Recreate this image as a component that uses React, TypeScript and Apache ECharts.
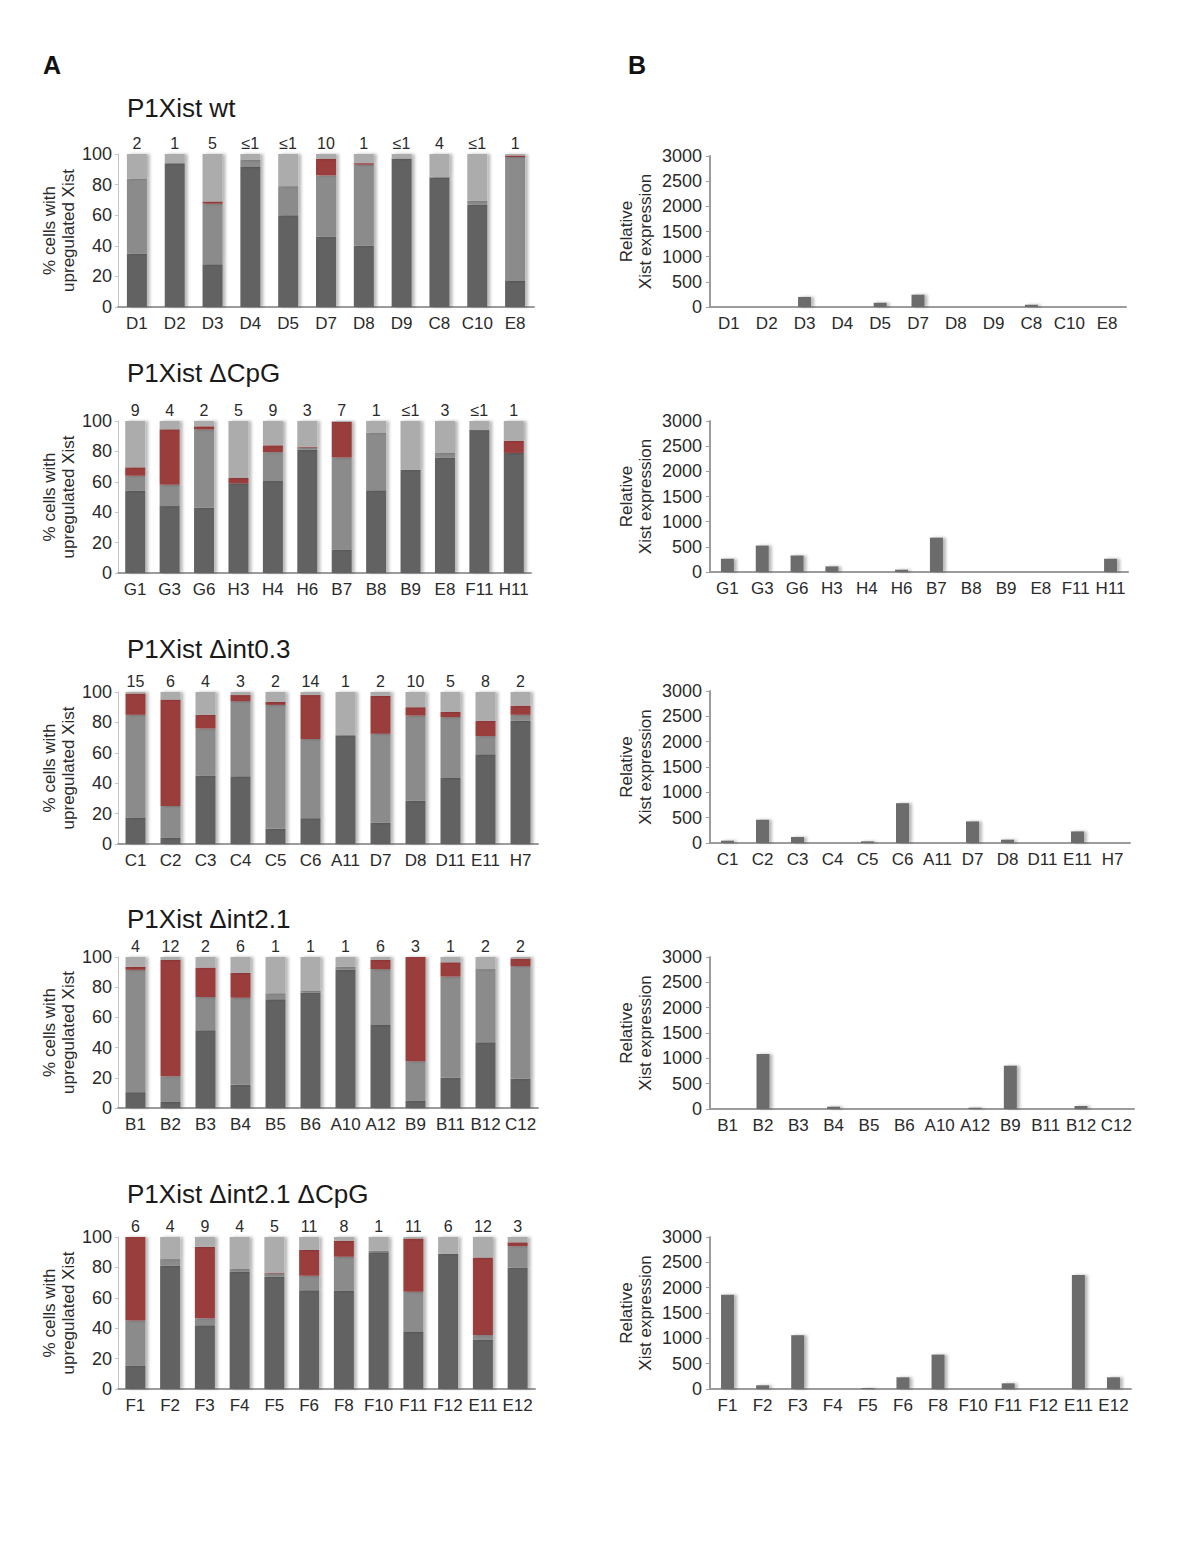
import React, { useEffect, useRef } from "react";
import * as echarts from "echarts";

// ---------- Panel 1: P1Xist wt ----------
const wtClones = ["D1", "D2", "D3", "D4", "D5", "D7", "D8", "D9", "C8", "C10", "E8"];
const wtDark = [35, 94, 28, 91.5, 60, 46, 40, 97, 84.5, 67, 17];
const wtMid = [49, 0, 39.5, 4.5, 19, 40, 53, 0, 0.8, 2.5, 81];
const wtRed = [0, 0, 1.5, 0, 0, 11, 1, 0, 0, 0, 1];
const wtCounts = ["2", "1", "5", "≤1", "≤1", "10", "1", "≤1", "4", "≤1", "1"];
const wtExpr = [0, 0, 200, 0, 85, 245, 0, 0, 45, 0, 0];

// ---------- Panel 2: P1Xist ΔCpG ----------
const cpgClones = ["G1", "G3", "G6", "H3", "H4", "H6", "B7", "B8", "B9", "E8", "F11", "H11"];
const cpgDark = [54, 44, 43, 59, 60.5, 81, 15.5, 54.5, 68, 76, 94, 79];
const cpgMid = [10, 14, 51.5, 0, 19, 1.5, 60.5, 38, 0, 3, 0, 0];
const cpgRed = [5.5, 36.5, 2, 3.5, 4.5, 0.5, 23.5, 0, 0, 0, 0, 8];
const cpgCounts = ["9", "4", "2", "5", "9", "3", "7", "1", "≤1", "3", "≤1", "1"];
const cpgExpr = [263, 525, 328, 112, 0, 46, 683, 0, 0, 0, 0, 263];

// ---------- Panel 3: P1Xist Δint0.3 ----------
const int03Clones = ["C1", "C2", "C3", "C4", "C5", "C6", "A11", "D7", "D8", "D11", "E11", "H7"];
const int03Dark = [17.5, 4, 45, 44.5, 10, 17, 71.5, 14, 28.5, 43.5, 59, 81];
const int03Mid = [67.5, 21, 31, 49.5, 81.5, 52, 0, 58.5, 56, 40, 12, 4];
const int03Red = [14, 70, 9, 4, 2, 29, 0, 25, 5.5, 3.5, 10, 6];
const int03Counts = ["15", "6", "4", "3", "2", "14", "1", "2", "10", "5", "8", "2"];
const int03Expr = [46, 459, 118, 0, 33, 786, 0, 426, 66, 0, 229, 0];

// ---------- Panel 4: P1Xist Δint2.1 ----------
const int21Clones = ["B1", "B2", "B3", "B4", "B5", "B6", "A10", "A12", "B9", "B11", "B12", "C12"];
const int21Dark = [10.5, 4, 51.5, 15.5, 72, 76.5, 91.5, 55, 5, 20, 43.5, 19.5];
const int21Mid = [81, 17, 22, 57.5, 4, 1, 2, 37, 26, 67, 48.5, 74.5];
const int21Red = [2, 77, 19.5, 16.5, 0, 0, 0, 6, 69, 9.5, 0, 5];
const int21Counts = ["4", "12", "2", "6", "1", "1", "1", "6", "3", "1", "2", "2"];
const int21Expr = [0, 1086, 0, 46, 0, 0, 0, 26, 855, 0, 59, 0];

// ---------- Panel 5: P1Xist Δint2.1 ΔCpG ----------
const int21cpgClones = ["F1", "F2", "F3", "F4", "F5", "F6", "F8", "F10", "F11", "F12", "E11", "E12"];
const int21cpgDark = [15.5, 81, 42, 77, 74, 65, 64.5, 90, 37.5, 89, 32.5, 80];
const int21cpgMid = [29.5, 4.5, 4.5, 2, 2, 9.5, 22.5, 1, 26.5, 0, 3, 14];
const int21cpgRed = [55, 0, 47, 0, 0.5, 17, 10.5, 0, 35, 0, 51, 2.5];
const int21cpgCounts = ["6", "4", "9", "4", "5", "11", "8", "1", "11", "6", "12", "3"];
const int21cpgExpr = [1859, 73, 1062, 0, 20, 231, 679, 0, 112, 0, 2248, 231];

const panelTitles = ["P1Xist wt", "P1Xist ΔCpG", "P1Xist Δint0.3", "P1Xist Δint2.1", "P1Xist Δint2.1 ΔCpG"];
const pctTicks = { min: 0, max: 100, interval: 20 };
const exprTicks = { min: 0, max: 3000, interval: 500 };

const panels = [
  { clones: wtClones, dark: wtDark, mid: wtMid, red: wtRed, counts: wtCounts, expr: wtExpr },
  { clones: cpgClones, dark: cpgDark, mid: cpgMid, red: cpgRed, counts: cpgCounts, expr: cpgExpr },
  { clones: int03Clones, dark: int03Dark, mid: int03Mid, red: int03Red, counts: int03Counts, expr: int03Expr },
  { clones: int21Clones, dark: int21Dark, mid: int21Mid, red: int21Red, counts: int21Counts, expr: int21Expr },
  { clones: int21cpgClones, dark: int21cpgDark, mid: int21cpgMid, red: int21cpgRed, counts: int21cpgCounts, expr: int21cpgExpr },
];

// layout (pixels)
const leftGrids = [
  { left: 118, top: 154, width: 416, height: 153 },
  { left: 118, top: 421, width: 413, height: 152 },
  { left: 118, top: 692, width: 420, height: 152 },
  { left: 118, top: 957, width: 420, height: 151 },
  { left: 118, top: 1237, width: 417, height: 152 },
];
const rightGrids = [
  { left: 710, top: 156, width: 416, height: 151 },
  { left: 710, top: 421, width: 418, height: 151 },
  { left: 710, top: 691, width: 420, height: 152 },
  { left: 710, top: 957, width: 424, height: 152 },
  { left: 710, top: 1237, width: 421, height: 152 },
];
const titleTops = [90, 355, 631, 901, 1176];

const FONT = "'Liberation Sans', Arial, Helvetica, sans-serif";
const C_DARK = "#626262";
const C_MID = "#8b8b8b";
const C_RED = "#9a3c3c";
const C_LIGHT = "#acacac";
const C_EXPR = "#6c6c6c";
const AXIS = "#9c9c9c";
const TEXT = "#2a2a2a";

const shadow = { shadowColor: "rgba(0,0,0,0.28)", shadowBlur: 3, shadowOffsetX: 3, shadowOffsetY: 0 };

function buildOption() {
  const grid: any[] = [];
  const xAxis: any[] = [];
  const yAxis: any[] = [];
  const series: any[] = [];
  const title: any[] = [
    { text: "A", left: 38, top: 47, textStyle: { fontFamily: FONT, fontSize: 25, fontWeight: "bold", color: "#111" } },
    { text: "B", left: 623, top: 47, textStyle: { fontFamily: FONT, fontSize: 25, fontWeight: "bold", color: "#111" } },
  ];

  panels.forEach((p, i) => {
    const light = p.clones.map((_, k) => Math.max(0, +(100 - p.dark[k] - p.mid[k] - p.red[k]).toFixed(2)));
    title.push({
      text: panelTitles[i],
      left: 122,
      top: titleTops[i],
      textStyle: { fontFamily: FONT, fontSize: 26, fontWeight: "normal", color: "#1a1a1a" },
    });

    // left stacked chart
    const gL = grid.length;
    grid.push({ ...leftGrids[i], containLabel: false });
    xAxis.push({
      type: "category",
      gridIndex: gL,
      data: p.clones,
      axisLine: { lineStyle: { color: AXIS, width: 2 } },
      axisTick: { show: false },
      axisLabel: { interval: 0, color: TEXT, fontFamily: FONT, fontSize: 17, margin: 8 },
    });
    yAxis.push({
      type: "value",
      gridIndex: gL,
      ...pctTicks,
      name: "% cells with\nupregulated Xist",
      nameLocation: "middle",
      nameRotate: 90,
      nameGap: 33,
      nameTextStyle: { fontFamily: FONT, fontSize: 17, color: TEXT, lineHeight: 19 },
      axisLine: { show: true, lineStyle: { color: "#c4c4c4", width: 1 } },
      axisTick: { show: true, length: 3, lineStyle: { color: "#c4c4c4" } },
      splitLine: { show: false },
      axisLabel: { color: TEXT, fontFamily: FONT, fontSize: 18, margin: 6 },
    });
    const stackName = "s" + i;
    const segs = [
      { data: p.dark, color: C_DARK },
      { data: p.mid, color: C_MID },
      { data: p.red, color: C_RED },
      { data: light, color: C_LIGHT },
    ];
    segs.forEach((s, j) => {
      series.push({
        type: "bar",
        xAxisIndex: gL,
        yAxisIndex: gL,
        stack: stackName,
        barWidth: 20,
        data: s.data,
        itemStyle: { color: s.color, ...shadow },
        label:
          j === 3
            ? {
                show: true,
                position: "top",
                distance: 3,
                formatter: (prm: any) => p.counts[prm.dataIndex],
                color: TEXT,
                fontFamily: FONT,
                fontSize: 16,
              }
            : { show: false },
        silent: true,
      });
    });

    // right expression chart
    const gR = grid.length;
    grid.push({ ...rightGrids[i], containLabel: false });
    xAxis.push({
      type: "category",
      gridIndex: gR,
      data: p.clones,
      axisLine: { lineStyle: { color: AXIS, width: 2 } },
      axisTick: { show: false },
      axisLabel: { interval: 0, color: TEXT, fontFamily: FONT, fontSize: 17, margin: 8 },
    });
    yAxis.push({
      type: "value",
      gridIndex: gR,
      ...exprTicks,
      name: "Relative\nXist expression",
      nameLocation: "middle",
      nameRotate: 90,
      nameGap: 55,
      nameTextStyle: { fontFamily: FONT, fontSize: 17, color: TEXT, lineHeight: 19 },
      axisLine: { show: true, lineStyle: { color: AXIS, width: 2 } },
      axisTick: { show: true, length: 4, lineStyle: { color: AXIS } },
      splitLine: { show: false },
      axisLabel: {
        color: TEXT,
        fontFamily: FONT,
        fontSize: 18,
        margin: 8,
        formatter: (v: number) => String(v),
      },
    });
    series.push({
      type: "bar",
      xAxisIndex: gR,
      yAxisIndex: gR,
      barWidth: 13,
      data: p.expr,
      itemStyle: { color: C_EXPR, ...shadow },
      silent: true,
    });
  });

  return {
    animation: false,
    backgroundColor: "#ffffff",
    textStyle: { fontFamily: FONT },
    title,
    grid,
    xAxis,
    yAxis,
    series,
  };
}

export default function App() {
  const ref = useRef<HTMLDivElement>(null);
  useEffect(() => {
    if (!ref.current) return;
    const chart = echarts.init(ref.current, null, { renderer: "svg" });
    chart.setOption(buildOption() as any);
    return () => chart.dispose();
  }, []);
  return (
    <div
      ref={ref}
      style={{ position: "absolute", left: 0, top: 0, width: 1200, height: 1554, background: "#fff" }}
    />
  );
}
